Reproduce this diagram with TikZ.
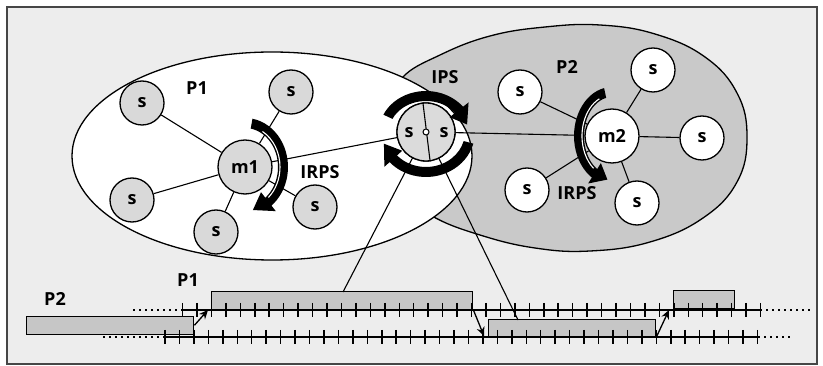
\documentclass[tikz,border=0pt]{standalone}
\usepackage{fontspec}
\setmainfont{Open Sans}
\usetikzlibrary{calc,arrows.meta}

% thick curved band arrow around a centre:
% #1 centre, #2/#3 x/y radius, #4 half band width, #5 start angle,
% #6 end angle, #7 angle of the tip, #8 half width of the head
\newcommand{\curlarrow}[8]{%
  \pgfmathsetmacro\cxo{#2+#4}\pgfmathsetmacro\cyo{#3+#4}%
  \pgfmathsetmacro\cxi{#2-#4}\pgfmathsetmacro\cyi{#3-#4}%
  \pgfmathsetmacro\hxo{#2+#8}\pgfmathsetmacro\hyo{#3+#8}%
  \pgfmathsetmacro\hxi{#2-#8}\pgfmathsetmacro\hyi{#3-#8}%
  \fill[black] ($(#1)+({\cxo*cos(#5)},{\cyo*sin(#5)})$)
    arc[start angle=#5,end angle=#6,x radius=\cxo,y radius=\cyo]
    -- ($(#1)+({\hxo*cos(#6)},{\hyo*sin(#6)})$)
    -- ($(#1)+({#2*cos(#7)},{#3*sin(#7)})$)
    -- ($(#1)+({\hxi*cos(#6)},{\hyi*sin(#6)})$)
    -- ($(#1)+({\cxi*cos(#6)},{\cyi*sin(#6)})$)
    arc[start angle=#6,end angle=#5,x radius=\cxi,y radius=\cyi]
    -- cycle;}

% thin light highlight along the inner side of a band arrow
% #1 centre, #2/#3 x/y radius, #4 start angle, #5 end angle
\newcommand{\curlshine}[5]{%
  \draw[white,line width=1.1pt] ($(#1)+({#2*cos(#4)},{#3*sin(#4)})$)
    arc[start angle=#4,end angle=#5,x radius=#2,y radius=#3];}

\begin{document}
\begin{tikzpicture}[x=1pt,y=-1pt,
  font=\bfseries\fontsize{18}{20}\selectfont,
  snodeA/.style={circle,draw,line width=1.3pt,fill=gray!30,minimum size=44pt,inner sep=0pt},
  snodeB/.style={snodeA,fill=white},
  mnodeA/.style={snodeA,minimum size=54pt},
  mnodeB/.style={snodeB,minimum size=54pt},
  hubnode/.style={snodeA,minimum size=58pt,fill=gray!28},
  lbl/.style={inner sep=0pt},
  edge/.style={line width=1.1pt},
  axisline/.style={line width=1.8pt},
  dotaxis/.style={line width=1.5pt,dash pattern=on 2pt off 4pt},
  tickmark/.style={line width=1.5pt},
  bar/.style={draw,line width=1.4pt,fill=gray!45,inner sep=0pt,anchor=south west},
  tarrow/.style={line width=1.3pt,-{Stealth[length=9pt,width=8pt]}}]

\useasboundingbox (0,0) rectangle (823,366);

% frame
\draw[line width=1.2pt,draw=gray!55!black,fill=gray!14] (7,7) rectangle (817,364);

% partition P2 (grey) and partition P1 (white)
\draw[line width=1.3pt,fill=gray!42] plot[smooth cycle,tension=0.7] coordinates {
  (390,110) (402,78) (440,55) (490,36) (545,27) (600,25) (655,34) (705,57)
  (737,93) (747,137) (737,182) (703,218) (650,242) (590,251) (535,248)
  (480,235) (432,216) (400,190) (388,150)};
\draw[line width=1.3pt,fill=white] (272,156) ellipse[x radius=200,y radius=104];

% timeline bars
\node[bar,minimum width=167pt,minimum height=18pt] (pb1) at (26,335) {};
\node[bar,minimum width=261pt,minimum height=18pt] (qb1) at (211,310) {};
\node[bar,minimum width=167pt,minimum height=17pt] (pb2) at (488,337) {};
\node[bar,minimum width=61pt,minimum height=18pt]  (qb2) at (673,309) {};

% nodes
\node[hubnode] (hub) at (426,132) {};
\coordinate (c1) at (343,292);
\coordinate (c2) at (518,320);
\draw[edge] (hub.center) -- (c1);
\draw[edge] (hub.center) -- (c2);

\node[snodeA] (s11) at (142,103) {s};
\node[snodeA] (s12) at (291,92) {s};
\node[snodeA] (s13) at (132,200) {s};
\node[snodeA] (s14) at (216,232) {s};
\node[snodeA] (s15) at (315,207) {s};
\node[mnodeA] (m1) at (245,167) {m1};

\node[snodeB] (s21) at (520,92) {s};
\node[snodeB] (s22) at (653,70) {s};
\node[snodeB] (s23) at (702,138) {s};
\node[snodeB] (s24) at (527,190) {s};
\node[snodeB] (s25) at (637,203) {s};
\node[mnodeB] (m2) at (612,136) {m2};

\foreach \n in {s11,s12,s13,s14,s15,hub} \draw[edge] (m1) -- (\n);
\foreach \n in {s21,s22,s23,s24,s25,hub} \draw[edge] (m2) -- (\n);

% shared node redrawn on top of its edges
\node[hubnode] (hubtop) at (426,132) {};
\draw[edge] (hubtop.96) -- (hubtop.-82);
\node[circle,draw,line width=1pt,fill=white,minimum size=6pt,inner sep=0pt] (hc) at (426,132) {};
\node[lbl] (hs1) at (409,133) {s};
\node[lbl] (hs2) at (444,133) {s};

% rotation arrows
\curlarrow{m1}{38}{44}{5}{-80}{52}{78}{12}
\curlshine{m1}{35}{41}{-60}{48}
\curlarrow{m2}{33}{44}{5}{258}{122}{98}{12}
\curlshine{m2}{30}{41}{245}{128}
\curlarrow{hub}{42}{36}{5}{205}{322}{348}{12}
\curlarrow{hub}{44}{40}{5}{15}{138}{163}{12}

% labels
\node[lbl] (lp1) at (197,88) {P1};
\node[lbl] (lirps1) at (320,172) {IRPS};
\node[lbl] (lips) at (445,77) {IPS};
\node[lbl] (lp2) at (567,67) {P2};
\node[lbl] (lirps2) at (577,193) {IRPS};
\node[lbl] (tp2) at (55,299) {P2};
\node[lbl] (tp1) at (188,280) {P1};

% time axes
\draw[dotaxis] (133,310) -- (182,310);
\draw[axisline] (182,310) -- (760,310);
\draw[dotaxis] (760,310) -- (810,310);
\foreach \i in {0,...,40} \draw[tickmark] ({182.5+14.45*\i},303) -- ({182.5+14.45*\i},317);

\draw[dotaxis] (103,337) -- (165,337);
\draw[axisline] (165,337) -- (758,337);
\draw[dotaxis] (758,337) -- (790,337);
\foreach \i in {0,...,41} \draw[tickmark] ({165+14.45*\i},330) -- ({165+14.45*\i},344);

% hand-over arrows
\coordinate (t1) at (208,310);
\coordinate (t2) at (484,336);
\coordinate (t3) at (669,310);
\draw[tarrow] (pb1.east) -- (t1);
\draw[tarrow] (qb1.south east) -- (t2);
\draw[tarrow] (pb2.south east) -- (t3);
\end{tikzpicture}
\end{document}
